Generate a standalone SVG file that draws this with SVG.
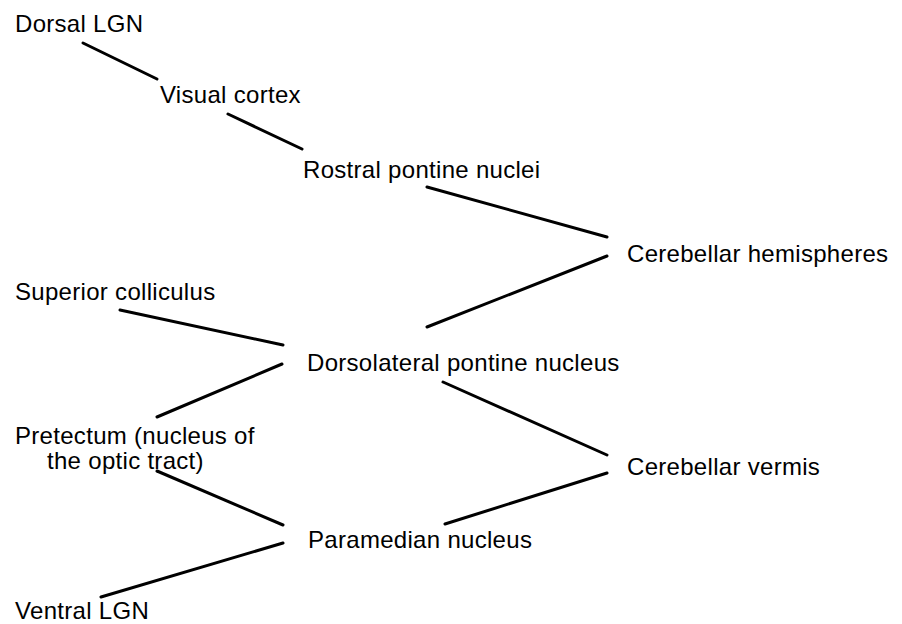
<svg xmlns="http://www.w3.org/2000/svg" width="902" height="624" viewBox="0 0 902 624">
<style>
text{font-family:"Liberation Sans",Arial,Helvetica,sans-serif;font-size:24px;letter-spacing:0.3px;fill:#000}
.c line{stroke:#000;stroke-width:3;stroke-linecap:round}
</style>
<rect width="902" height="624" fill="#fff"/>
<g id="dorsal-lgn"><text x="15" y="32">Dorsal LGN</text></g>
<g id="visual-cortex"><text x="160" y="103">Visual cortex</text></g>
<g id="rostral-pontine"><text x="303" y="178">Rostral pontine nuclei</text></g>
<g id="cerebellar-hemispheres"><text x="627" y="262">Cerebellar hemispheres</text></g>
<g id="superior-colliculus"><text x="15" y="300">Superior colliculus</text></g>
<g id="dorsolateral-pontine"><text x="307" y="371">Dorsolateral pontine nucleus</text></g>
<g id="pretectum"><text x="15" y="444">Pretectum (nucleus of</text><text x="47" y="469">the optic tract)</text></g>
<g id="cerebellar-vermis"><text x="627" y="475">Cerebellar vermis</text></g>
<g id="paramedian"><text x="308" y="548">Paramedian nucleus</text></g>
<g id="ventral-lgn"><text x="15" y="619">Ventral LGN</text></g>
<g class="c" id="connectors">
<line x1="83" y1="43" x2="157" y2="79"/>
<line x1="228" y1="114" x2="302" y2="149"/>
<line x1="427" y1="187" x2="607" y2="237"/>
<line x1="607" y1="256" x2="427" y2="327"/>
<line x1="120" y1="310" x2="283" y2="345"/>
<line x1="282" y1="364" x2="157" y2="417"/>
<line x1="157" y1="471" x2="283" y2="525"/>
<line x1="443" y1="382" x2="607" y2="455"/>
<line x1="607" y1="473" x2="445" y2="524"/>
<line x1="283" y1="543" x2="101" y2="597"/>
</g>
</svg>
